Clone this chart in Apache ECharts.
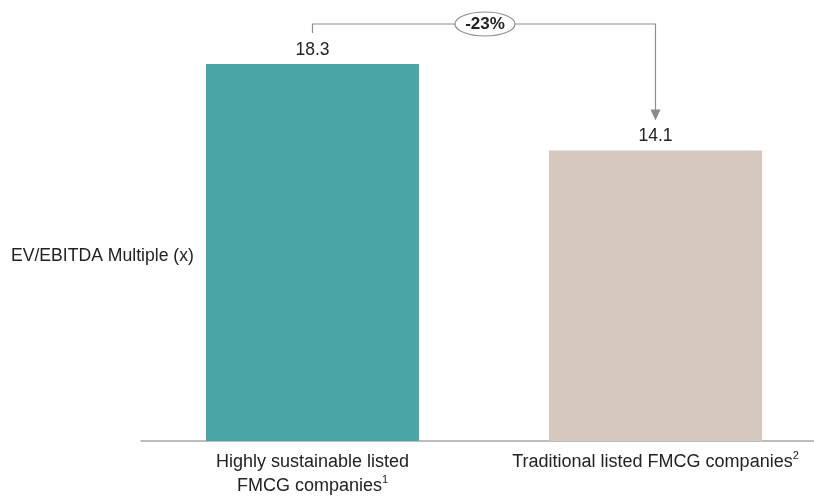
<!DOCTYPE html>
<html>
<head>
<meta charset="utf-8">
<script src="https://cdn.jsdelivr.net/npm/echarts@6/dist/echarts.min.js"></script>
<style>
  html, body { margin: 0; padding: 0; background: #fff; }
  #chart { width: 814px; height: 497px; }
</style>
</head>
<body>
<div id="chart"></div>
<script>
const categories = [
  'Highly sustainable listed\nFMCG companies{sup|1}',
  'Traditional listed FMCG companies{sup|2}',
]
const values = [18.3, 14.1]
const barColors = ['#4aa5a6', '#d5c8bc']
const axisName = 'EV/EBITDA Multiple (x)'

const font = '"Liberation Sans", Arial, sans-serif'
const chart = echarts.init(document.getElementById('chart'))

chart.setOption({
  animation: false,
  title: {
    text: axisName,
    left: 6,
    top: 242,
    textStyle: { fontFamily: font, fontSize: 17.6, fontWeight: 'normal', color: '#222' },
  },
  grid: { left: 141, width: 686, top: 29, bottom: 56, outerBoundsMode: 'none', containLabel: false },
  xAxis: {
    type: 'category',
    data: categories,
    axisLine: { lineStyle: { color: '#a8a8a8', width: 1.5 } },
    axisTick: { show: false },
    axisLabel: {
      interval: 0,
      hideOverlap: false,
      margin: 9,
      color: '#222',
      fontFamily: font,
      fontSize: 18,
      lineHeight: 24,
      rich: { sup: { fontSize: 11, verticalAlign: 'top', lineHeight: 22, color: '#222', fontFamily: font } },
    },
  },
  yAxis: { type: 'value', min: 0, max: 20, show: false },
  series: [
    {
      type: 'bar',
      barWidth: 213,
      data: values.map((v, i) => ({ value: v, itemStyle: { color: barColors[i] } })),
      label: {
        show: true,
        position: 'top',
        distance: 5,
        color: '#222',
        fontFamily: font,
        fontSize: 17.5,
      },
    },
  ],
})

// bracket with change between the two bars
const p1 = chart.convertToPixel({ seriesIndex: 0 }, [0, values[0]])
const p2 = chart.convertToPixel({ seriesIndex: 0 }, [1, values[1]])
const topY = 24
const tipY = p2[1] - 30
const change = Math.round((values[1] / values[0] - 1) * 100)
const midX = (p1[0] + p2[0]) / 2 + 1
const lineStyle = { stroke: '#8c8c8c', lineWidth: 1.2, fill: null }

chart.setOption({
  graphic: [
    {
      type: 'polyline',
      shape: { points: [[p1[0], p1[1] - 31], [p1[0], topY], [p2[0], topY], [p2[0], tipY - 9]] },
      style: lineStyle,
    },
    {
      type: 'polygon',
      shape: { points: [[p2[0] - 5, tipY - 11], [p2[0] + 5, tipY - 11], [p2[0], tipY]] },
      style: { fill: '#8c8c8c' },
    },
    {
      type: 'ellipse',
      shape: { cx: midX, cy: topY, rx: 30, ry: 12 },
      style: { fill: '#fff', stroke: '#8c8c8c', lineWidth: 1.2 },
    },
    {
      type: 'text',
      x: midX,
      y: topY,
      style: {
        text: change + '%',
        fontFamily: font,
        fontSize: 17,
        fontWeight: 'bold',
        fill: '#222',
        align: 'center',
        verticalAlign: 'middle',
      },
    },
  ],
})
</script>
</body>
</html>
